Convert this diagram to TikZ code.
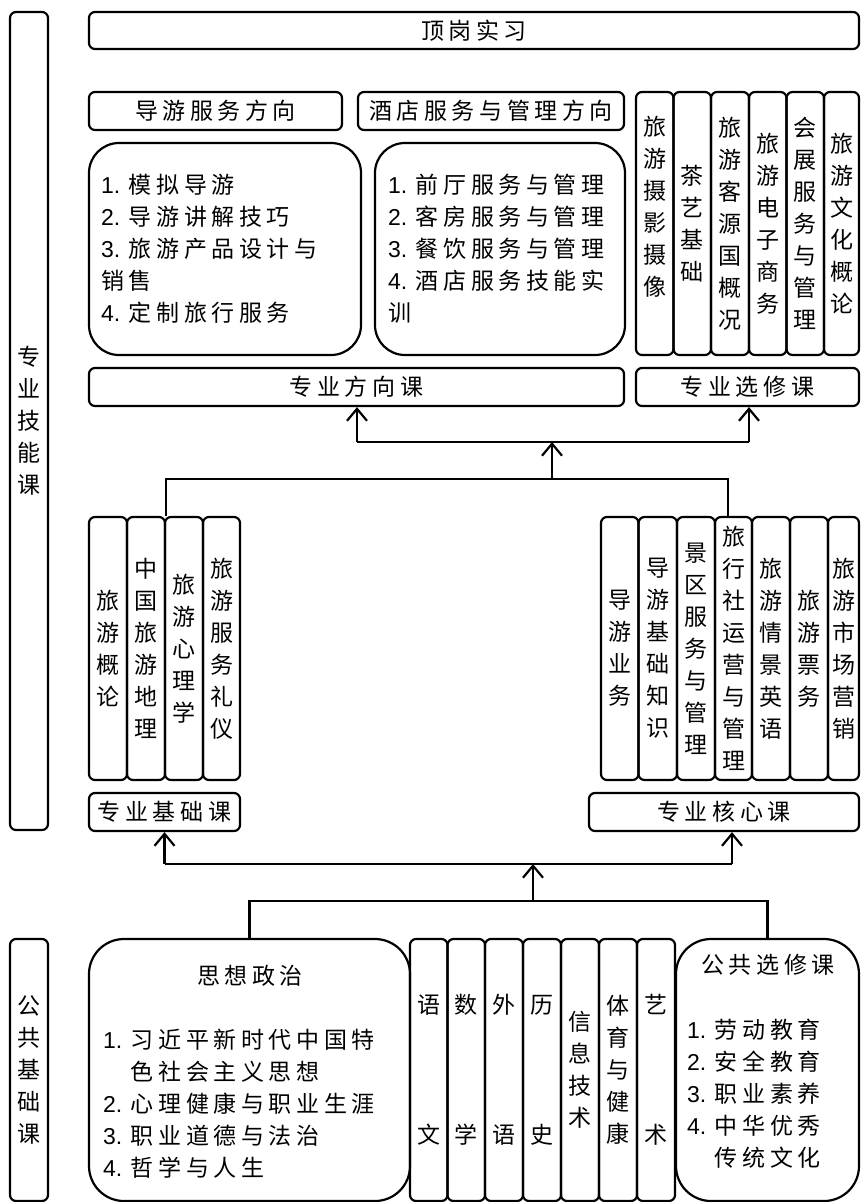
\documentclass[tikz,border=0pt]{standalone}
\usepackage{fontspec}
\setmainfont{Liberation Sans}
\newfontfamily\cjk[LetterSpace=20]{Noto Sans CJK SC}
\newfontfamily\cjkv{Noto Sans CJK SC}
\newfontfamily\lat{Liberation Sans}
\usetikzlibrary{arrows.meta}
\newcommand\mkbox[7]{\node[#6,minimum width={(#4)-(#2)},minimum height={(#5)-(#3)}] (#1) at ({((#2)+(#4))/2},{((#3)+(#5))/2}) {#7};}
\newcommand\nm[1]{{\lat #1. }}
\begin{document}
\begin{tikzpicture}[x=1pt,y=-1pt,
  bx/.style={draw,line width=2.2pt,rounded corners=6pt,inner sep=0pt},
  rbx/.style={bx,rounded corners=30pt},
  ht/.style={font=\cjk\fontsize{23}{32}\selectfont,inner sep=0pt},
  vt/.style={font=\cjkv\fontsize{23}{32}\selectfont,inner sep=0pt,align=center},
  lt/.style={ht,align=left,anchor=west},
  conn/.style={line width=2.2pt},
  arr/.style={conn,-{Straight Barb[length=12pt,width=20pt]}}]
\useasboundingbox (0,0) rectangle (860,1202);
% ---- top part ----
\mkbox{jnk}{10}{12}{48}{830}{bx,vt}{专\\业\\技\\能\\课}
\mkbox{dg}{89}{12}{859}{49}{bx,ht}{顶岗实习}
\mkbox{dyfx}{89}{92}{342}{130}{bx,ht}{导游服务方向}
\mkbox{jdfx}{358}{92}{624}{130}{bx,ht}{酒店服务与管理方向}
\mkbox{dyb}{89}{143}{361}{355}{rbx}{}
\mkbox{jdb}{375}{143}{625}{355}{rbx}{}
\node[lt] (dyt) at (101,249) {\nm{1}模拟导游\\\nm{2}导游讲解技巧\\\nm{3}旅游产品设计与\\销售\\\nm{4}定制旅行服务};
\node[lt] (jdt) at (388,249) {\nm{1}前厅服务与管理\\\nm{2}客房服务与管理\\\nm{3}餐饮服务与管理\\\nm{4}酒店服务技能实\\训};
% electives
\mkbox{x1}{636}{92}{673.5}{355}{bx}{}
\node[vt] (x1t) at (654.75,207) {旅\\游\\摄\\影\\摄\\像};
\mkbox{x2}{673.5}{92}{711}{355}{bx,vt}{茶\\艺\\基\\础}
\mkbox{x3}{711}{92}{749}{355}{bx,vt}{旅\\游\\客\\源\\国\\概\\况}
\mkbox{x4}{749}{92}{786.5}{355}{bx,vt}{旅\\游\\电\\子\\商\\务}
\mkbox{x5}{786.5}{92}{824}{355}{bx,vt}{会\\展\\服\\务\\与\\管\\理}
\mkbox{x6}{824}{92}{859}{355}{bx,vt}{旅\\游\\文\\化\\概\\论}
\mkbox{fxk}{89}{368}{624}{406}{bx,ht}{专业方向课}
\mkbox{xxk}{636}{368}{859}{406}{bx,ht}{专业选修课}
% basic
\mkbox{jc1}{89}{517}{127}{780}{bx,vt}{旅\\游\\概\\论}
\mkbox{jc2}{127}{517}{165}{780}{bx,vt}{中\\国\\旅\\游\\地\\理}
\mkbox{jc3}{165}{517}{203}{780}{bx,vt}{旅\\游\\心\\理\\学}
\mkbox{jc4}{203}{517}{240}{780}{bx,vt}{旅\\游\\服\\务\\礼\\仪}
\mkbox{jck}{89}{793}{240}{831}{bx,ht}{专业基础课}
% core
\mkbox{hx1}{601}{517}{638.5}{780}{bx,vt}{导\\游\\业\\务}
\mkbox{hx2}{638.5}{517}{677}{780}{bx,vt}{导\\游\\基\\础\\知\\识}
\mkbox{hx3}{677}{517}{715}{780}{bx,vt}{景\\区\\服\\务\\与\\管\\理}
\mkbox{hx4}{715}{517}{752}{780}{bx,vt}{旅\\行\\社\\运\\营\\与\\管\\理}
\mkbox{hx5}{752}{517}{790}{780}{bx,vt}{旅\\游\\情\\景\\英\\语}
\mkbox{hx6}{790}{517}{828}{780}{bx,vt}{旅\\游\\票\\务}
\mkbox{hx7}{828}{517}{859}{780}{bx,vt}{旅\\游\\市\\场\\营\\销}
\mkbox{hxk}{589}{793}{859}{831}{bx,ht}{专业核心课}
% ---- bottom part ----
\mkbox{ggk}{10}{939}{48}{1201}{bx,vt}{公\\共\\基\\础\\课}
\mkbox{sz}{89}{939}{410}{1201}{bx,rounded corners=35pt}{}
\node[ht] (szt) at (250,976) {思想政治};
\node[lt] (szl) at (103,1104) {\nm{1}习近平新时代中国特\\\hphantom{\nm{1}}色社会主义思想\\\nm{2}心理健康与职业生涯\\\nm{3}职业道德与法治\\\nm{4}哲学与人生};
\mkbox{g1}{410}{939}{447.5}{1201}{bx,vt}{语\\[98pt]文}
\mkbox{g2}{447.5}{939}{485}{1201}{bx,vt}{数\\[98pt]学}
\mkbox{g3}{485}{939}{523}{1201}{bx,vt}{外\\[98pt]语}
\mkbox{g4}{523}{939}{561}{1201}{bx,vt}{历\\[98pt]史}
\mkbox{g5}{561}{939}{599}{1201}{bx,vt}{信\\息\\技\\术}
\mkbox{g6}{599}{939}{637}{1201}{bx,vt}{体\\育\\与\\健\\康}
\mkbox{g7}{637}{939}{675}{1201}{bx,vt}{艺\\[98pt]术}
\mkbox{gx}{676}{939}{859}{1201}{bx,rounded corners=35pt}{}
\node[ht] (gxt) at (768,965) {公共选修课};
\node[lt] (gxl) at (687,1094) {\nm{1}劳动教育\\\nm{2}安全教育\\\nm{3}职业素养\\\nm{4}中华优秀\\\hphantom{\nm{4}}传统文化};
% ---- connectors ----
\coordinate (p1) at (552,479);
\coordinate (p2) at (552,442);
\coordinate (q1) at (357,442);
\coordinate (q2) at (749,442);
\coordinate (c2) at (728,517);
\draw[conn] (jc2.north east) |- (p1) -| (c2);
\draw[arr] (p1) -- (p2);
\draw[conn] (q1) -- (q2);
\draw[arr] (q1) -- (q1 |- fxk.south);
\draw[arr] (q2) -- (q2 |- xxk.south);
\coordinate (r1) at (164.5,864);
\coordinate (r2) at (732,864);
\coordinate (s1) at (533,901);
\coordinate (s0) at (533,864);
\draw[conn] (r1) -- (r2);
\draw[arr] (r1) -- (jck.south);
\draw[arr] (r2) -- (r2 |- hxk.south);
\draw[arr] (s1) -- (s0);
\draw[conn] (sz.north) |- (s1) -| (gx.north);
\end{tikzpicture}
\end{document}
